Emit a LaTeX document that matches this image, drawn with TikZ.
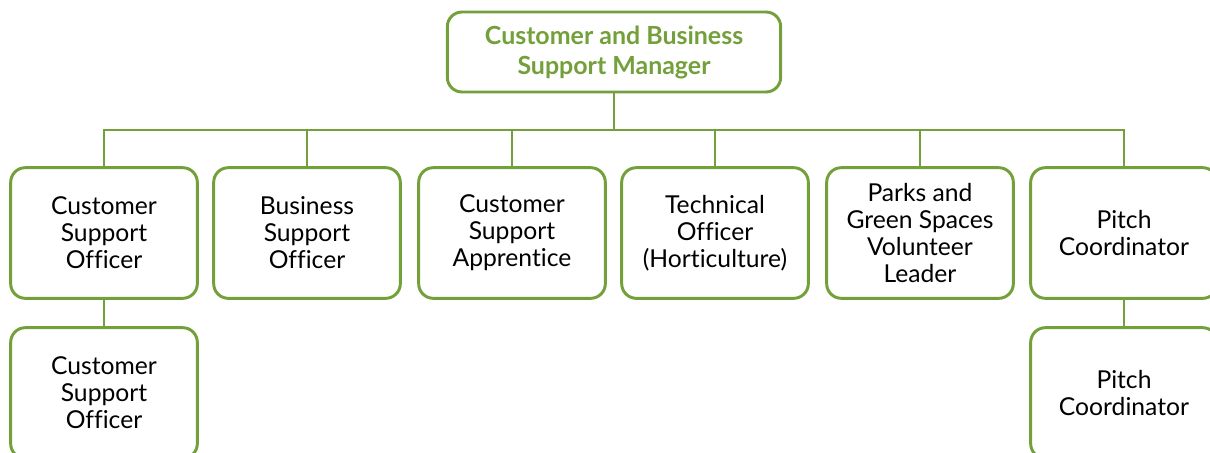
\documentclass[tikz,border=0pt]{standalone}
\usepackage{fontspec}
\setmainfont[Ligatures=NoCommon]{Lato}
\usepackage{color}
\definecolor{mygreen}{RGB}{115,160,58}
\usepackage{tikz}
\usetikzlibrary{calc,positioning}
\tikzstyle{rolebox}=[draw=mygreen,line width=2.2pt,rounded corners=11pt,fill=white,minimum width=140pt,minimum height=98pt,align=center,inner sep=2pt,font=\fontsize{18.5}{20.2}\selectfont]
\tikzstyle{headbox}=[rolebox,minimum width=250pt,minimum height=60pt,text=mygreen,font=\fontsize{18.7}{22.5}\selectfont\bfseries]
\tikzstyle{link}=[draw=mygreen,line width=2.2pt]

\begin{document}
\begin{tikzpicture}[x=0.75pt,y=-0.75pt]
\useasboundingbox (0,0) rectangle (1210,453);
\draw (614, 52) node [headbox] (mgr) {Customer and Business\\Support Manager};
\draw (104, 233) node [rolebox] (cso) {Customer\\Support\\Officer};
\draw (307, 233) node [rolebox] (bso) {Business\\Support\\Officer};
\draw (512, 233) node [rolebox] (csa) {Customer\\Support\\Apprentice};
\draw (715, 233) node [rolebox] (tech) {Technical\\Officer\\(Horticulture)};
\draw (920, 233) node [rolebox] (parks) {Parks and\\Green Spaces\\Volunteer\\Leader};
\draw (1124, 233) node [rolebox] (pitch) {Pitch\\Coordinator};
\draw (104, 393) node [rolebox] (csotwo) {Customer\\Support\\Officer};
\draw (1124, 393) node [rolebox] (pitchtwo) {Pitch\\Coordinator};
\coordinate (bus) at (614, 130);
\draw[link] (mgr) -- (bus);
\foreach \n in {cso,bso,csa,tech,parks,pitch}
  \draw[link] (bus) -| (\n.north);
\draw[link] (cso) -- (csotwo);
\draw[link] (pitch) -- (pitchtwo);
\end{tikzpicture}
\end{document}
